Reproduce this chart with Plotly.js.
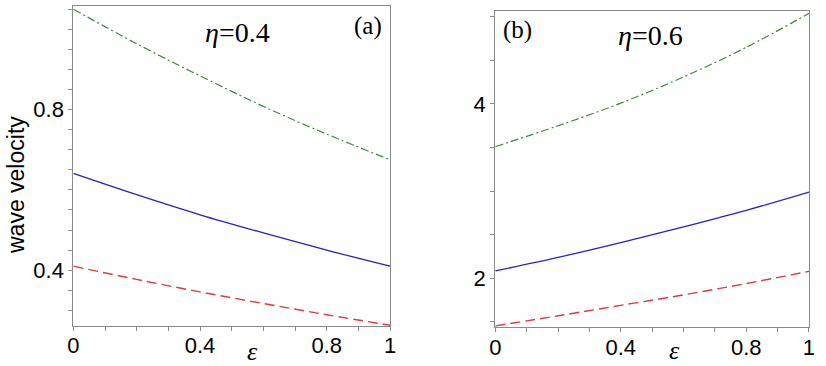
<!DOCTYPE html>
<html>
<head>
<meta charset="utf-8">
<script src="https://cdn.plot.ly/plotly-3.0.1.min.js"></script>
<style>
  html, body { margin: 0; padding: 0; background: #fff; }
  #chart { width: 826px; height: 366px; }
</style>
</head>
<body>
<div id="chart"></div>
<script>
// epsilon samples
const eps = [0, 0.2, 0.4, 0.6, 0.8, 1];

// panel (a), eta = 0.4
const aGreen = [1.05, 0.964, 0.884, 0.808, 0.739, 0.675];
const aBlue  = [0.641, 0.588, 0.538, 0.493, 0.450, 0.410];
const aRed   = [0.410, 0.377, 0.346, 0.317, 0.289, 0.263];

// panel (b), eta = 0.6
const bGreen = [3.51, 3.75, 4.01, 4.31, 4.65, 5.04];
const bBlue  = [2.085, 2.24, 2.41, 2.59, 2.78, 2.99];
const bRed   = [1.455, 1.57, 1.69, 1.81, 1.94, 2.08];

const xTicks = [0, 0.4, 0.8, 1];
const xTickText = ['0', '0.4', '0.8', '1'];

const GREEN = '#3d8b3d';
const BLUE = '#2323c8';
const RED = '#e0393e';
const AXIS = '#8a8a8a';
const SANS = 'Liberation Sans';
const SERIF = 'Liberation Serif';

const line = (x, y, color, dash, width, xa, ya) => ({
  x: x, y: y, xaxis: xa, yaxis: ya,
  type: 'scatter', mode: 'lines',
  line: {color: color, dash: dash, width: width, shape: 'spline'},
  hoverinfo: 'skip', showlegend: false
});

const data = [
  line(eps, aGreen, GREEN, '8px,3px,2px,3px', 1.2, 'x', 'y'),
  line(eps, aBlue, BLUE, 'solid', 1.3, 'x', 'y'),
  line(eps, aRed, RED, '10px,5px', 1.4, 'x', 'y'),
  line(eps, bGreen, GREEN, '8px,3px,2px,3px', 1.2, 'x2', 'y2'),
  line(eps, bBlue, BLUE, 'solid', 1.3, 'x2', 'y2'),
  line(eps, bRed, RED, '10px,5px', 1.4, 'x2', 'y2')
];

const tickFont = {family: SANS, size: 22, color: '#000'};

const xAxis = (domain, anchor) => ({
  domain: domain, anchor: anchor, range: [0, 1],
  tickmode: 'array', tickvals: xTicks, ticktext: xTickText,
  ticks: 'outside', ticklen: 4, tickcolor: AXIS, ticklabelstandoff: -4,
  minor: {tickmode: 'linear', tick0: 0, dtick: 0.1, ticks: 'outside', ticklen: 4, tickcolor: AXIS},
  showline: true, mirror: true, linecolor: AXIS, linewidth: 1,
  showgrid: false, zeroline: false, fixedrange: true,
  tickfont: tickFont
});

const yAxis = (domain, anchor, range, dtick, minorStep) => ({
  domain: domain, anchor: anchor, range: range,
  tickmode: 'linear', tick0: 0, dtick: dtick,
  ticks: 'outside', ticklen: 4, tickcolor: AXIS,
  minor: {tickmode: 'linear', tick0: 0, dtick: minorStep, ticks: 'outside', ticklen: 4, tickcolor: AXIS},
  showline: true, mirror: true, linecolor: AXIS, linewidth: 1,
  showgrid: false, zeroline: false, fixedrange: true,
  tickfont: tickFont
});

// text placed by pixel position in the 826x366 picture
const label = (px, py, text, family, size, angle) => ({
  xref: 'paper', yref: 'paper', x: px / 826, y: 1 - py / 366,
  xanchor: 'center', yanchor: 'middle', text: text, textangle: angle || 0,
  showarrow: false, font: {family: family, size: size, color: '#000'}
});

const layout = {
  width: 826, height: 366,
  margin: {l: 0, r: 0, t: 0, b: 0},
  paper_bgcolor: '#fff', plot_bgcolor: '#fff',
  xaxis: xAxis([0.0888, 0.4722], 'y'),
  yaxis: yAxis([0.1093, 0.9836], 'x', [0.261, 1.058], 0.4, 0.05),
  xaxis2: xAxis([0.5996, 0.9794], 'y2'),
  yaxis2: yAxis([0.1057, 0.97], 'x2', [1.438, 5.067], 2, 0.5),
  annotations: [
    label(16, 185, 'wave velocity', SANS, 23, -90),
    label(253, 351, '<i>ε</i>', SERIF, 26),
    label(674, 350, '<i>ε</i>', SERIF, 26),
    label(237, 33, '<i>η</i>=0.4', SERIF, 28),
    label(650, 35, '<i>η</i>=0.6', SERIF, 28),
    label(368, 26, '(a)', SERIF, 25),
    label(517, 30, '(b)', SERIF, 25)
  ]
};

Plotly.newPlot('chart', data, layout, {staticPlot: true, displayModeBar: false});
</script>
</body>
</html>
